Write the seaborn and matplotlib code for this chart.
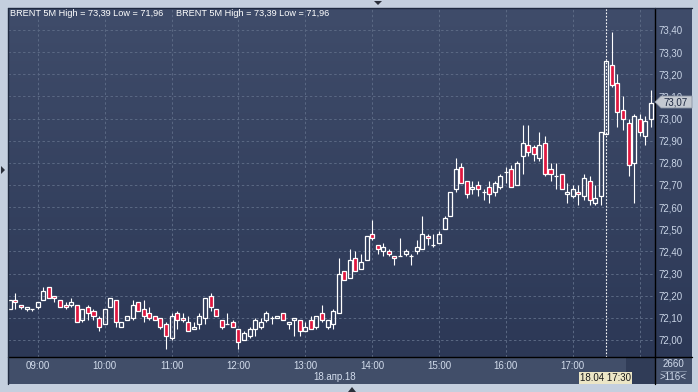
import numpy as np
import pandas as pd
import matplotlib
matplotlib.use("Agg")
import matplotlib.pyplot as plt
import seaborn as sns
from matplotlib.colors import LinearSegmentedColormap
from matplotlib.patches import Polygon, Rectangle
from matplotlib.lines import Line2D

# ---------------- data ----------------
start_time = "2018-04-18 08:35"
open_ = [72.14, 72.18, 72.16, 72.14, 72.14, 72.15, 72.18, 72.24, 72.20, 72.18,
         72.16, 72.16, 72.16, 72.09, 72.15, 72.13, 72.10, 72.07, 72.15, 72.18,
         72.06, 72.09, 72.10, 72.17, 72.14, 72.12, 72.11, 72.10, 72.07, 72.01,
         72.12, 72.10, 72.08, 72.05, 72.07, 72.10, 72.20, 72.14, 72.09, 72.07,
         72.08, 72.05, 72.00, 72.02, 72.05, 72.06, 72.09, 72.10, 72.10, 72.12,
         72.07, 72.09, 72.09, 72.04, 72.09, 72.06, 72.12, 72.06, 72.07, 72.12,
         72.31, 72.28, 72.37, 72.32, 72.36, 72.48, 72.43, 72.40, 72.40, 72.38,
         72.38, 72.39, 72.38, 72.40, 72.41, 72.47, 72.43, 72.44, 72.50, 72.56,
         72.68, 72.78, 72.72, 72.68, 72.70, 72.67, 72.69, 72.67, 72.69, 72.76,
         72.77, 72.70, 72.83, 72.88, 72.87, 72.82, 72.89, 72.77, 72.74, 72.75,
         72.66, 72.65, 72.67, 72.65, 72.72, 72.62, 72.65, 72.93, 73.24, 73.16,
         73.04, 72.98, 72.80, 73.00, 72.92, 73.00]
high = [72.18, 72.21, 72.16, 72.15, 72.14, 72.17, 72.24, 72.24, 72.20, 72.18,
        72.17, 72.19, 72.16, 72.14, 72.16, 72.14, 72.11, 72.14, 72.19, 72.18,
        72.08, 72.11, 72.18, 72.17, 72.18, 72.15, 72.11, 72.10, 72.08, 72.12,
        72.13, 72.12, 72.11, 72.08, 72.12, 72.19, 72.21, 72.14, 72.09, 72.12,
        72.09, 72.05, 72.04, 72.06, 72.10, 72.10, 72.13, 72.11, 72.11, 72.12,
        72.08, 72.10, 72.09, 72.08, 72.11, 72.11, 72.16, 72.09, 72.14, 72.37,
        72.31, 72.41, 72.40, 72.39, 72.47, 72.54, 72.43, 72.44, 72.41, 72.38,
        72.46, 72.41, 72.39, 72.45, 72.56, 72.48, 72.48, 72.49, 72.56, 72.67,
        72.82, 72.80, 72.72, 72.72, 72.72, 72.68, 72.72, 72.72, 72.75, 72.78,
        72.79, 72.81, 72.97, 72.97, 72.88, 72.94, 72.92, 72.80, 72.80, 72.75,
        72.71, 72.70, 72.70, 72.75, 72.74, 72.70, 72.94, 73.26, 73.39, 73.20,
        73.10, 73.00, 73.02, 73.02, 73.01, 73.13]
low = [72.14, 72.14, 72.14, 72.13, 72.13, 72.14, 72.18, 72.19, 72.17, 72.15,
       72.14, 72.15, 72.08, 72.08, 72.09, 72.09, 72.04, 72.07, 72.15, 72.06,
       72.06, 72.09, 72.09, 72.13, 72.08, 72.09, 72.09, 72.05, 71.96, 72.00,
       72.05, 72.08, 72.04, 72.05, 72.05, 72.07, 72.13, 72.11, 72.05, 72.07,
       72.06, 71.96, 72.00, 72.01, 72.02, 72.05, 72.08, 72.07, 72.10, 72.09,
       72.05, 72.02, 72.02, 72.04, 72.05, 72.05, 72.08, 72.05, 72.05, 72.12,
       72.27, 72.28, 72.31, 72.32, 72.36, 72.45, 72.39, 72.38, 72.38, 72.34,
       72.38, 72.38, 72.34, 72.39, 72.41, 72.43, 72.42, 72.44, 72.50, 72.56,
       72.67, 72.71, 72.64, 72.66, 72.65, 72.63, 72.62, 72.65, 72.68, 72.71,
       72.69, 72.70, 72.75, 72.83, 72.81, 72.81, 72.74, 72.72, 72.68, 72.68,
       72.62, 72.64, 72.61, 72.63, 72.61, 72.61, 72.61, 72.93, 73.14, 72.96,
       72.95, 72.74, 72.62, 72.92, 72.88, 72.96]
close = [72.18, 72.17, 72.15, 72.15, 72.14, 72.17, 72.22, 72.19, 72.19, 72.15,
         72.15, 72.17, 72.08, 72.14, 72.12, 72.11, 72.06, 72.14, 72.19, 72.08,
         72.08, 72.11, 72.16, 72.13, 72.11, 72.10, 72.09, 72.06, 72.02, 72.11,
         72.09, 72.09, 72.04, 72.06, 72.11, 72.19, 72.15, 72.11, 72.06, 72.07,
         72.06, 71.99, 72.03, 72.05, 72.09, 72.08, 72.12, 72.10, 72.11, 72.09,
         72.08, 72.10, 72.04, 72.06, 72.05, 72.11, 72.09, 72.09, 72.13, 72.30,
         72.27, 72.36, 72.31, 72.35, 72.47, 72.46, 72.41, 72.42, 72.39, 72.37,
         72.38, 72.40, 72.38, 72.42, 72.48, 72.46, 72.43, 72.48, 72.55, 72.67,
         72.77, 72.71, 72.66, 72.69, 72.68, 72.67, 72.66, 72.71, 72.74, 72.76,
         72.69, 72.80, 72.89, 72.85, 72.84, 72.88, 72.75, 72.75, 72.74, 72.68,
         72.67, 72.68, 72.66, 72.73, 72.63, 72.64, 72.94, 73.26, 73.15, 73.03,
         73.00, 72.79, 73.01, 72.94, 72.99, 73.07]
price_ticks = [72.00, 72.10, 72.20, 72.30, 72.40, 72.50, 72.60, 72.70,
               72.80, 72.90, 73.00, 73.10, 73.20, 73.30, 73.40]
hour_labels = ["09:00", "10:00", "11:00", "12:00", "13:00", "14:00",
               "15:00", "16:00", "17:00", "18:00"]
date_label = "18.апр.18"
title_text = "BRENT 5M High = 73,39 Low = 71,96"
cursor_label = "18.04 17:30"
last_label = "73,07"
corner_top = "2660"
corner_bottom = ">116<"

# ---------------- style ----------------
sns.set_theme(style="dark")
plt.rcParams["font.family"] = ["Liberation Sans", "DejaVu Sans"]

W, H = 698, 392
fig = plt.figure(figsize=(W / 100, H / 100), dpi=100)
fig.patch.set_facecolor("#c4cfde")


def frac(x0, y0, x1, y1):
    """pixel box (top-left origin) -> figure fraction rect"""
    return [x0 / W, 1 - y1 / H, (x1 - x0) / W, (y1 - y0) / H]


# gradient background for plot + right scale
bg = fig.add_axes(frac(8, 8, 692, 357))
cmap = LinearSegmentedColormap.from_list("g", ["#3f4c6a", "#2c3856"])
bg.imshow(np.linspace(0, 1, 256).reshape(-1, 1), cmap=cmap, aspect="auto",
          extent=[0, 1, 0, 1])
bg.set_axis_off()

# bottom time panel
bp = fig.add_axes(frac(8, 357, 692, 384))
bp.set_facecolor("#414e69")
bp.set_xticks([]); bp.set_yticks([])
for s in bp.spines.values():
    s.set_visible(False)

# main axes
ax = fig.add_axes(frac(8, 8, 655, 357))
ax.patch.set_alpha(0)
for s in ax.spines.values():
    s.set_visible(False)

times = pd.date_range(start_time, periods=len(open_), freq="5min")
df = pd.DataFrame({"t": times, "o": open_, "h": high, "l": low, "c": close})
df["x"] = np.arange(len(df))
x = df["x"].to_numpy()
o = df["o"].to_numpy(); c = df["c"].to_numpy()
h = df["h"].to_numpy(); l = df["l"].to_numpy()
top = np.maximum(o, c); bot = np.minimum(o, c)
up = c >= o

ax.set_xlim(-0.34, 115.75)
ax.set_ylim(71.923, 73.499)

# grid
hour_pos = [int(i) for i in df.index[df["t"].dt.minute == 0]]
ax.set_xticks(hour_pos)
ax.set_xticklabels(hour_labels[:len(hour_pos)])
ax.set_yticks(price_ticks)
ax.set_yticklabels([f"{p:.2f}".replace(".", ",") for p in price_ticks])
ax.grid(True, color="#5b6984", linestyle=(0, (2.5, 2.5)), linewidth=0.7)
ax.set_axisbelow(True)
ax.yaxis.tick_right()
ax.tick_params(axis="y", length=0, pad=2.5, labelsize=7, labelcolor="#c9d4e6")
ax.tick_params(axis="x", length=0, pad=3.0, labelsize=7, labelcolor="#d2dcec")
for lbl in ax.get_xticklabels():
    if lbl.get_text() == "18:00":
        lbl.set_color("#6f7c94")
for lbl in ax.get_yticklabels():
    if lbl.get_text() == "73,10":
        lbl.set_zorder(1)

# candles
ax.vlines(x, top, h, color="white", lw=0.8, zorder=3)
ax.vlines(x, l, bot, color="white", lw=0.8, zorder=3)
ax.bar(x[up], (top - bot)[up], bottom=bot[up], width=0.72,
       facecolor="none", edgecolor="white", linewidth=0.9, zorder=4)
ax.bar(x[~up], (top - bot)[~up], bottom=bot[~up], width=0.72,
       facecolor="#e0173f", edgecolor="white", linewidth=0.9, zorder=4)

# crosshair at 17:30
cross_x = int(df.index[df["t"] == pd.Timestamp("2018-04-18 17:30")][0])
ax.axvline(cross_x, color="white", linestyle=(0, (1.5, 1.5)), lw=0.8, zorder=2)

# separator lines
fig.add_artist(Line2D([655 / W, 655 / W], [1 - 8 / H, 1 - 384 / H], color="black", lw=1.0))
fig.add_artist(Line2D([8 / W, 692 / W], [1 - 357 / H, 1 - 357 / H], color="black", lw=1.0))
fig.add_artist(Line2D([8 / W, 692 / W], [1 - 8 / H, 1 - 8 / H], color="#1f2a40", lw=1.0))
fig.add_artist(Line2D([8 / W, 8 / W], [1 - 8 / H, 1 - 384 / H], color="#1f2a40", lw=1.0))

# dim area around 18:00 in time panel
fig.add_artist(Rectangle((626 / W, 1 - 384 / H), 29 / W, 26.5 / H,
                         transform=fig.transFigure, facecolor="#303c57",
                         edgecolor="none", zorder=0.5))

# titles
for tx in (10, 176):
    fig.text(tx / W, 1 - 13.5 / H, title_text, color="white", fontsize=6.6,
             ha="left", va="center")

# date label
fig.text(335 / W, 1 - 377 / H, date_label, color="#d2dcec", fontsize=7,
         ha="center", va="center")

# cursor time label
fig.add_artist(Rectangle((579 / W, 1 - 384 / H), 53 / W, 12 / H,
                         transform=fig.transFigure, facecolor="#ece6c6",
                         edgecolor="none", zorder=5))
fig.text(605.5 / W, 1 - 378 / H, cursor_label, color="#1a1a1a", fontsize=7,
         ha="center", va="center", zorder=6)

# last price label (arrow box)
pts = [(655, 102), (661, 96), (692, 96), (692, 108), (661, 108)]
fig.add_artist(Polygon([(px / W, 1 - py / H) for px, py in pts], closed=True,
                       transform=fig.transFigure, facecolor="#c4c9d1",
                       edgecolor="#8a93a3", lw=0.6, zorder=5))
fig.text(663 / W, 1 - 102.5 / H, last_label, color="#1c2740", fontsize=7,
         ha="left", va="center", zorder=6)

# corner counters
fig.text(673 / W, 1 - 364 / H, corner_top, color="#d2dcec", fontsize=7,
         ha="center", va="center")
fig.add_artist(Line2D([661 / W, 686 / W], [1 - 370.5 / H, 1 - 370.5 / H],
                      color="#8794aa", lw=0.6))
fig.text(673 / W, 1 - 377.5 / H, corner_bottom, color="#d2dcec", fontsize=7,
         ha="center", va="center")

# small frame triangles
tri_top = [(374, 1), (382, 1), (378, 5)]
tri_left = [(1, 166), (1, 174), (5, 170)]
tri_bot = [(348, 392), (356, 392), (352, 387)]
for tri in (tri_top, tri_left, tri_bot):
    fig.add_artist(Polygon([(px / W, 1 - py / H) for px, py in tri], closed=True,
                           transform=fig.transFigure, facecolor="#2a2f3a",
                           edgecolor="none"))

fig.savefig("out.png", dpi=100, facecolor=fig.get_facecolor())
